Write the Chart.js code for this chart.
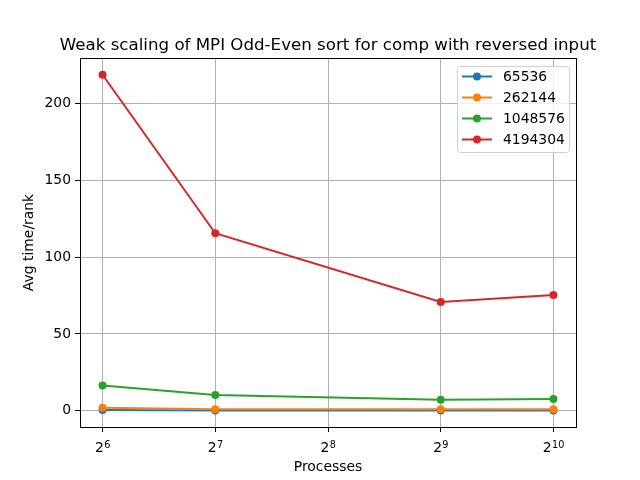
<!DOCTYPE html>
<html>
<head>
<meta charset="utf-8">
<script src="https://cdn.jsdelivr.net/npm/chart.js@4/dist/chart.umd.min.js"></script>
<style>
html,body{margin:0;padding:0;background:#fff;}
#wrap{width:640px;height:480px;}
</style>
</head>
<body>
<div id="wrap"><canvas id="c" width="640" height="480"></canvas></div>
<script>
const processes = [64, 128, 512, 1024];
const seriesNames = ['65536', '262144', '1048576', '4194304'];
const s65536 = [0.4, 0.2, 0.2, 0.2];
const s262144 = [2.0, 1.0, 0.9, 1.0];
const s1048576 = [16.4, 10.2, 7.1, 7.6];
const s4194304 = [218.8, 115.6, 70.8, 75.3];
const xTickValues = [64, 128, 256, 512, 1024];
const xTickBases = ['2', '2', '2', '2', '2'];
const xTickExponents = ['6', '7', '8', '9', '10'];
const yTickValues = [0, 50, 100, 150, 200];
const colors = ['#1f77b4', '#ff7f0e', '#2ca02c', '#d62728'];
const titleText = 'Weak scaling of MPI Odd-Even sort for comp with reversed input';

const allSeries = [s65536, s262144, s1048576, s4194304];
const FONT = "'DejaVu Sans', sans-serif";
const FS = 13.9;

const datasets = allSeries.map((vals, i) => ({
  label: seriesNames[i],
  data: processes.map((p, j) => ({x: p, y: vals[j]})),
  borderColor: colors[i],
  backgroundColor: colors[i],
  pointBackgroundColor: colors[i],
  pointBorderColor: colors[i],
  borderWidth: 2,
  pointRadius: 4,
  pointBorderWidth: 0,
  pointHoverRadius: 4,
  tension: 0,
  order: 3 - i
}));

const customPlugin = {
  id: 'custom',
  afterDraw(chart) {
    const ctx = chart.ctx;
    const a = chart.chartArea;
    ctx.save();
    // frame
    ctx.strokeStyle = '#000';
    ctx.lineWidth = 1;
    ctx.strokeRect(Math.round(a.left) + 0.5, Math.round(a.top) + 0.5, Math.round(a.right - a.left), Math.round(a.bottom - a.top));
    // title
    ctx.fillStyle = '#000';
    ctx.font = '16.67px ' + FONT;
    ctx.textAlign = 'center';
    ctx.textBaseline = 'alphabetic';
    ctx.fillText(titleText, (a.left + a.right) / 2, 50);
    // x tick labels with exponents
    const xs = chart.scales.x;
    ctx.textAlign = 'left';
    xTickValues.forEach((v, i) => {
      const px = xs.getPixelForValue(v);
      ctx.font = FS + 'px ' + FONT;
      const w1 = ctx.measureText(xTickBases[i]).width;
      ctx.font = '9.7px ' + FONT;
      const w2 = ctx.measureText(xTickExponents[i]).width;
      const x0 = px - (w1 + w2) / 2;
      ctx.font = FS + 'px ' + FONT;
      ctx.fillText(xTickBases[i], x0, 452);
      ctx.font = '9.7px ' + FONT;
      ctx.fillText(xTickExponents[i], x0 + w1 + 0.3, 447.5);
    });
    // legend
    const bx = 457, by = 66, bw = 112, bh = 86;
    ctx.fillStyle = 'rgba(255,255,255,0.8)';
    ctx.strokeStyle = '#d0d0d0';
    ctx.lineWidth = 1;
    ctx.beginPath();
    if (ctx.roundRect) ctx.roundRect(bx + 0.5, by + 0.5, bw, bh, 3); else ctx.rect(bx + 0.5, by + 0.5, bw, bh);
    ctx.fill();
    ctx.stroke();
    ctx.font = FS + 'px ' + FONT;
    ctx.textAlign = 'left';
    ctx.textBaseline = 'middle';
    seriesNames.forEach((name, i) => {
      const cy = 76.5 + i * 21;
      ctx.strokeStyle = colors[i];
      ctx.lineWidth = 2;
      ctx.beginPath();
      ctx.moveTo(462, cy);
      ctx.lineTo(492, cy);
      ctx.stroke();
      ctx.fillStyle = colors[i];
      ctx.beginPath();
      ctx.arc(477, cy, 4, 0, Math.PI * 2);
      ctx.fill();
      ctx.fillStyle = '#000';
      ctx.fillText(name, 503, cy + 1);
    });
    ctx.restore();
  }
};

new Chart(document.getElementById('c'), {
  type: 'line',
  data: {datasets},
  options: {
    responsive: false,
    animation: false,
    devicePixelRatio: 1,
    layout: {padding: {top: 58, right: 64, left: 0, bottom: 0}},
    plugins: {legend: {display: false}, title: {display: false}, tooltip: {enabled: false}},
    scales: {
      x: {
        type: 'logarithmic',
        min: Math.pow(2, 5.8),
        max: Math.pow(2, 10.2),
        afterBuildTicks: s => { s.ticks = xTickValues.map(v => ({value: v})); },
        afterFit: s => { s.height = 53; },
        ticks: {
          autoSkip: false, maxRotation: 0, minRotation: 0, padding: 4, color: '#000',
          font: {family: FONT, size: FS},
          callback: () => ''
        },
        grid: {color: '#b0b0b0', lineWidth: 1, tickLength: 5, tickColor: '#000', drawTicks: true},
        border: {display: false},
        title: {display: true, text: 'Processes', color: '#000', font: {family: FONT, size: FS}, padding: {top: 0, bottom: 4}}
      },
      y: {
        type: 'linear',
        min: -10.6,
        max: 229.7,
        afterBuildTicks: s => { s.ticks = yTickValues.map(v => ({value: v})); },
        afterFit: s => { s.width = 80; },
        ticks: {padding: 4, color: '#000', font: {family: FONT, size: FS}},
        grid: {color: '#b0b0b0', lineWidth: 1, tickLength: 5, tickColor: '#000', drawTicks: true},
        border: {display: false},
        title: {display: true, text: 'Avg time/rank', color: '#000', font: {family: FONT, size: FS}, padding: {top: 21, bottom: 0}}
      }
    }
  },
  plugins: [customPlugin]
});
</script>
</body>
</html>
